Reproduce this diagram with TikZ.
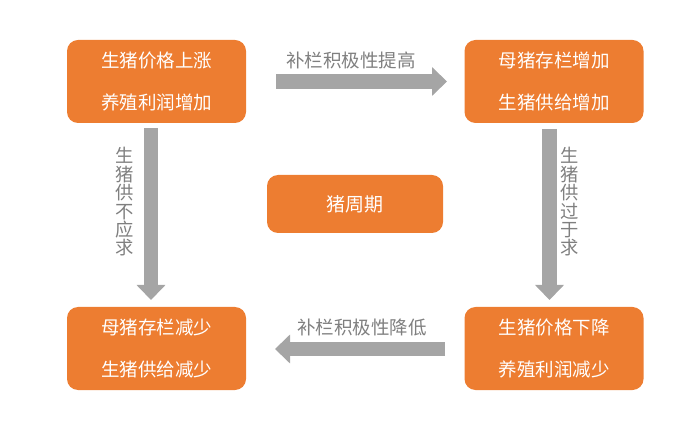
\documentclass[tikz,border=0pt]{standalone}
\usepackage{fontspec}
\setmainfont{Noto Sans CJK SC}
\usetikzlibrary{arrows.meta}
\definecolor{boxorange}{HTML}{ED7D31}
\definecolor{arrowgray}{HTML}{A5A5A5}
\definecolor{labelgray}{HTML}{7F7F7F}
\begin{document}
\begin{tikzpicture}[x=1bp,y=-1bp,
  cyclebox/.style={fill=boxorange,draw=none,rounded corners=11bp,text=white,
    minimum width=179bp,minimum height=83bp,inner sep=0pt,align=center,
    font=\fontsize{18.5bp}{42bp}\selectfont},
  centerbox/.style={fill=boxorange,draw=none,rounded corners=11bp,text=white,
    minimum width=176bp,minimum height=58bp,inner sep=0pt,
    font=\fontsize{19bp}{22bp}\selectfont},
  bigarrow/.style={draw=arrowgray,line width=14.5bp,
    -{Triangle[width=28bp,length=15bp]}},
  hlabel/.style={text=labelgray,inner sep=0pt,font=\fontsize{18.5bp}{22bp}\selectfont},
  vlabel/.style={text=labelgray,inner sep=0pt,align=center,
    font=\fontsize{18.3bp}{18.4bp}\selectfont}]
\useasboundingbox (0,0) rectangle (700,438);
\node[cyclebox] (tl) at (156.5,81.5) {生猪价格上涨\\养殖利润增加};
\node[cyclebox] (tr) at (554,81.5) {母猪存栏增加\\生猪供给增加};
\node[cyclebox] (bl) at (156.5,348.5) {母猪存栏减少\\生猪供给减少};
\node[cyclebox] (br) at (554,348.5) {生猪价格下降\\养殖利润减少};
\node[centerbox] (c) at (355,204) {猪周期};

\coordinate (a1s) at (276,81.5);
\coordinate (a1e) at (447,81.5);
\coordinate (a2s) at (549.5,129);
\coordinate (a2e) at (549.5,300);
\coordinate (a3s) at (445,349);
\coordinate (a3e) at (275,349);
\coordinate (a4s) at (151,128);
\coordinate (a4e) at (151,300);
\draw[bigarrow] (a1s) -- (a1e);
\draw[bigarrow] (a2s) -- (a2e);
\draw[bigarrow] (a3s) -- (a3e);
\draw[bigarrow] (a4s) -- (a4e);

\node[hlabel] (l1) at (351,60) {补栏积极性提高};
\node[hlabel] (l3) at (362,328) {补栏积极性降低};
\node[vlabel] (l4) at (125,202) {生\\猪\\供\\不\\应\\求};
\node[vlabel] (l2) at (570,202) {生\\猪\\供\\过\\于\\求};
\end{tikzpicture}
\end{document}
